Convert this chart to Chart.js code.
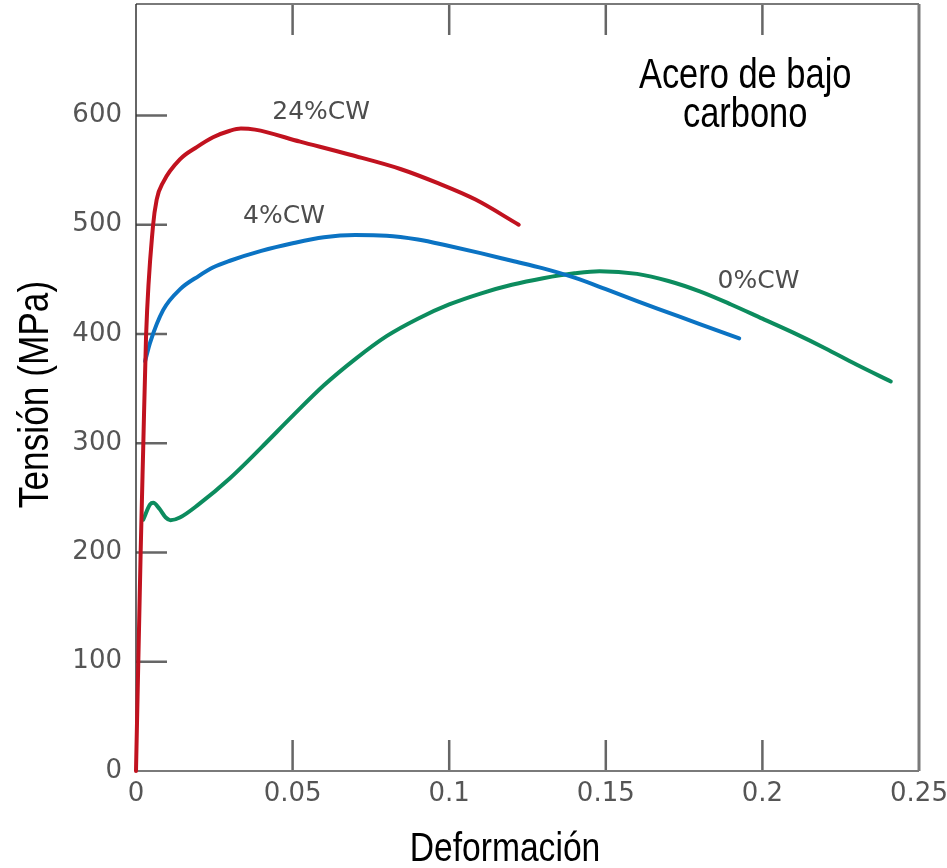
<!DOCTYPE html>
<html lang="es">
<head>
  <meta charset="UTF-8">
  <title>Acero de bajo carbono</title>
  <script src="https://cdn.jsdelivr.net/npm/chart.js"></script>
  <style>
    html, body { margin: 0; padding: 0; background: #fff; }
    canvas { display: block; }
  </style>
</head>
<body>
  <canvas id="stressChart" width="947" height="868"></canvas>
  <script>
    // curve data (strain, stress in MPa)
    const strain24 = [0, 0.0015, 0.0023, 0.0032, 0.0054, 0.0066, 0.0087, 0.0141, 0.0194, 0.0246, 0.03, 0.0335, 0.038, 0.0524, 0.0684, 0.0844, 0.0964, 0.1084, 0.1222];
    const stress24 = [0, 202, 295, 397, 498, 523, 539, 560, 571, 580, 586, 588, 587, 576, 564, 551, 538, 523, 500];

    const strain4 = [0.0029, 0.0045, 0.0087, 0.0141, 0.02, 0.0247, 0.03, 0.04, 0.05, 0.06, 0.07, 0.08, 0.09, 0.1, 0.11, 0.12, 0.13, 0.14, 0.15, 0.16, 0.17, 0.18, 0.1926];
    const stress4 = [375, 392, 422, 441, 453, 461, 467, 476, 483, 488.5, 490.5, 490, 486.5, 480.5, 474, 467, 460, 451.5, 441, 430, 419.5, 409, 396];

    const strain0 = [0.0023, 0.0045, 0.0055, 0.0075, 0.0095, 0.011, 0.014, 0.02, 0.03, 0.04, 0.05, 0.06, 0.07, 0.08, 0.09, 0.1, 0.11, 0.12, 0.13, 0.14, 0.148, 0.16, 0.17, 0.18, 0.19, 0.2, 0.21, 0.22, 0.23, 0.241];
    const stress0 = [230, 244, 245.5, 240, 232, 229.5, 232, 244, 268, 296, 325, 353, 377, 398, 414, 427, 437, 445, 451, 455.5, 457.5, 455, 448.5, 439, 427, 414, 401, 387, 372, 356.5];

    const xTicks = [0, 0.05, 0.1, 0.15, 0.2, 0.25];
    const xTickLabels = ['0', '0.05', '0.1', '0.15', '0.2', '0.25'];
    const yTicks = [0, 100, 200, 300, 400, 500, 600];
    const yTickLabels = ['0', '100', '200', '300', '400', '500', '600'];

    const curveLabels = ['24%CW', '4%CW', '0%CW'];

    function toPoints(xs, ys) {
      return xs.map((v, i) => ({ x: v, y: ys[i] }));
    }

    function drawNarrow(ctx, text, x, y, size, rot) {
      ctx.save();
      ctx.translate(x, y);
      if (rot) ctx.rotate(rot);
      ctx.scale(0.82, 1);
      ctx.font = size + 'px "Liberation Sans", Arial, sans-serif';
      ctx.fillStyle = '#000';
      ctx.textAlign = 'center';
      ctx.textBaseline = 'alphabetic';
      ctx.fillText(text, 0, 0);
      ctx.restore();
    }

    const framePlugin = {
      id: 'frame',
      beforeDatasetsDraw(chart) {
        const { ctx, chartArea: a, scales: { x, y } } = chart;
        ctx.save();
        ctx.lineCap = 'butt';

        // tick marks point into the plot
        ctx.strokeStyle = '#666';
        ctx.lineWidth = 2.5;
        ctx.beginPath();
        xTicks.forEach(v => {
          if (v <= 0 || v >= 0.25) return;
          const px = x.getPixelForValue(v);
          ctx.moveTo(px, a.bottom);
          ctx.lineTo(px, a.bottom - 31);
          ctx.moveTo(px, a.top);
          ctx.lineTo(px, a.top + 31);
        });
        yTicks.forEach(v => {
          if (v <= 0) return;
          const py = y.getPixelForValue(v);
          ctx.moveTo(a.left, py);
          ctx.lineTo(a.left + 31, py);
        });
        ctx.stroke();

        // box
        ctx.strokeStyle = '#7a7a7a';
        ctx.lineWidth = 2;
        ctx.beginPath();
        ctx.moveTo(a.left, a.top);
        ctx.lineTo(a.right, a.top);
        ctx.moveTo(a.left, a.bottom);
        ctx.lineTo(a.right, a.bottom);
        ctx.stroke();
        ctx.lineWidth = 3;
        ctx.beginPath();
        ctx.moveTo(a.right, a.top);
        ctx.lineTo(a.right, a.bottom);
        ctx.stroke();
        ctx.strokeStyle = '#333';
        ctx.lineWidth = 1.5;
        ctx.beginPath();
        ctx.moveTo(a.left, a.top);
        ctx.lineTo(a.left, a.bottom);
        ctx.stroke();
        ctx.restore();
      },
      afterDraw(chart) {
        const { ctx, chartArea: a, scales: { x, y } } = chart;
        ctx.save();
        ctx.font = '25px "DejaVu Sans", sans-serif';
        ctx.fillStyle = '#4d4d4d';
        ctx.textAlign = 'left';
        ctx.textBaseline = 'alphabetic';
        ctx.fillText(curveLabels[0], x.getPixelForValue(0.0435), y.getPixelForValue(597));
        ctx.fillText(curveLabels[1], x.getPixelForValue(0.0342), y.getPixelForValue(502));
        ctx.fillText(curveLabels[2], x.getPixelForValue(0.1857), y.getPixelForValue(442));
        ctx.restore();

        drawNarrow(ctx, 'Acero de bajo', x.getPixelForValue(0.1945), y.getPixelForValue(625), 42);
        drawNarrow(ctx, 'carbono', x.getPixelForValue(0.1945), y.getPixelForValue(589), 42);

        drawNarrow(ctx, 'Deformación', 505, 861, 41);
        drawNarrow(ctx, 'Tensión (MPa)', 48, (a.top + a.bottom) / 2 + 7, 43, -Math.PI / 2);
      }
    };

    new Chart(document.getElementById('stressChart'), {
      type: 'line',
      data: {
        datasets: [
          { label: curveLabels[0], data: toPoints(strain24, stress24), borderColor: '#c1121f' },
          { label: curveLabels[1], data: toPoints(strain4, stress4), borderColor: '#0b73c3' },
          { label: curveLabels[2], data: toPoints(strain0, stress0), borderColor: '#0c8c5e' }
        ]
      },
      options: {
        responsive: false,
        animation: false,
        layout: { padding: { top: 4, right: 28, left: 0, bottom: 0 } },
        plugins: {
          legend: { display: false },
          tooltip: { enabled: false }
        },
        elements: {
          point: { radius: 0 },
          line: { borderWidth: 4, cubicInterpolationMode: 'monotone', borderCapStyle: 'round', borderJoinStyle: 'round', fill: false }
        },
        datasets: { line: { clip: false } },
        scales: {
          x: {
            type: 'linear',
            min: 0,
            max: 0.25,
            grid: { display: false, drawTicks: false },
            border: { display: false },
            ticks: {
              padding: 8,
              color: '#555',
              font: { family: '"DejaVu Sans", sans-serif', size: 26 },
              callback: (v, i) => xTickLabels[i]
            },
            afterBuildTicks: s => { s.ticks = xTicks.map(v => ({ value: v })); },
            afterFit: s => { s.height = 97; s.paddingLeft = 0; s.paddingRight = 0; }
          },
          y: {
            type: 'linear',
            min: 0,
            max: 702,
            grid: { display: false, drawTicks: false },
            border: { display: false },
            ticks: {
              padding: 14,
              color: '#555',
              font: { family: '"DejaVu Sans", sans-serif', size: 26 },
              callback: (v, i) => yTickLabels[i]
            },
            afterBuildTicks: s => { s.ticks = yTicks.map(v => ({ value: v })); },
            afterFit: s => { s.width = 136; s.paddingTop = 0; s.paddingBottom = 0; }
          }
        }
      },
      plugins: [framePlugin]
    });
  </script>
</body>
</html>
